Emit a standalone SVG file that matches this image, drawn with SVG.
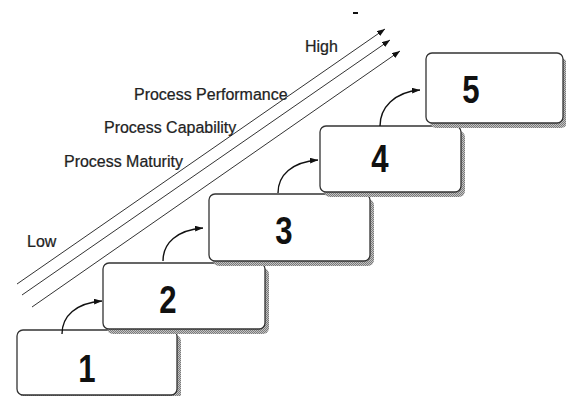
<svg xmlns="http://www.w3.org/2000/svg" width="566" height="396" viewBox="0 0 566 396">
  <defs>
    <!-- halftone dot texture for drop shadows -->
    <pattern id="dots" width="2" height="2" patternUnits="userSpaceOnUse">
      <rect width="2" height="2" fill="#c4c4c4"/>
      <rect width="1" height="1" fill="#7a7a7a"/>
      <rect x="1" y="1" width="1" height="1" fill="#7a7a7a"/>
    </pattern>
    <marker id="head" markerWidth="8" markerHeight="6" refX="8" refY="3" orient="auto" markerUnits="userSpaceOnUse">
      <path d="M0,0 L8,3 L0,6 z" fill="#111"/>
    </marker>
  </defs>
  <style>
    .shadow { fill: url(#dots); }
    .box { fill: #ffffff; stroke: #333; stroke-width: 1.3; }
    .num { font-family: "Liberation Sans", Arial, sans-serif; font-weight: bold; font-size: 38px; fill: #111; text-anchor: middle; }
    .lbl { font-family: "Liberation Sans", Arial, sans-serif; font-size: 17px; fill: #222; stroke: #222; stroke-width: 0.25; }
    .axis { stroke: #333; stroke-width: 1; fill: none; marker-end: url(#head); }
    .step { stroke: #111; stroke-width: 1.4; fill: none; marker-end: url(#head); }
  </style>

  <rect width="566" height="396" fill="#ffffff"/>
  <rect x="353" y="12" width="5" height="2" fill="#111"/>

  <!-- rising scales -->
  <g id="connectors">
    <line class="axis" x1="17" y1="284" x2="385" y2="29"/>
    <line class="axis" x1="22" y1="295" x2="390" y2="40"/>
    <line class="axis" x1="32" y1="307" x2="400" y2="51"/>
  </g>

  <g id="labels">
    <text class="lbl" transform="translate(305,52) scale(0.94,1)">High</text>
    <text class="lbl" transform="translate(134,100) scale(0.94,1)">Process Performance</text>
    <text class="lbl" transform="translate(104,133) scale(0.94,1)">Process Capability</text>
    <text class="lbl" transform="translate(64,167) scale(0.94,1)">Process Maturity</text>
    <text class="lbl" transform="translate(27,247) scale(0.94,1)">Low</text>
  </g>

  <!-- staircase of levels, lowest first -->
  <g id="level1">
    <rect class="shadow" x="21" y="335" width="160" height="65" rx="6"/>
    <rect class="box" x="17" y="330" width="160" height="65" rx="6"/>
    <text class="num" transform="translate(87,382) scale(0.82,1)">1</text>
  </g>
  <g id="level2">
    <rect class="shadow" x="107" y="268" width="162" height="66" rx="6"/>
    <rect class="box" x="103" y="263" width="162" height="66" rx="6"/>
    <text class="num" transform="translate(168,313) scale(0.82,1)">2</text>
  </g>
  <g id="level3">
    <rect class="shadow" x="213" y="199" width="161" height="67" rx="6"/>
    <rect class="box" x="209" y="194" width="161" height="67" rx="6"/>
    <text class="num" transform="translate(284,244) scale(0.82,1)">3</text>
  </g>
  <g id="level4">
    <rect class="shadow" x="324" y="131" width="141" height="66" rx="6"/>
    <rect class="box" x="320" y="126" width="141" height="66" rx="6"/>
    <text class="num" transform="translate(380,172) scale(0.82,1)">4</text>
  </g>
  <g id="level5">
    <rect class="shadow" x="430" y="58" width="137" height="70" rx="6"/>
    <rect class="box" x="426" y="53" width="137" height="70" rx="6"/>
    <text class="num" transform="translate(471,103) scale(0.82,1)">5</text>
  </g>

  <!-- step-up arrows -->
  <g id="steps">
    <path class="step" d="M62,334 C62,316 76,303 102,301"/>
    <path class="step" d="M163,261 C163,243 177,230 203,228"/>
    <path class="step" d="M278,193 C278,175 292,162 318,160"/>
    <path class="step" d="M380,126 C380,108 394,92 420,90"/>
  </g>
</svg>
